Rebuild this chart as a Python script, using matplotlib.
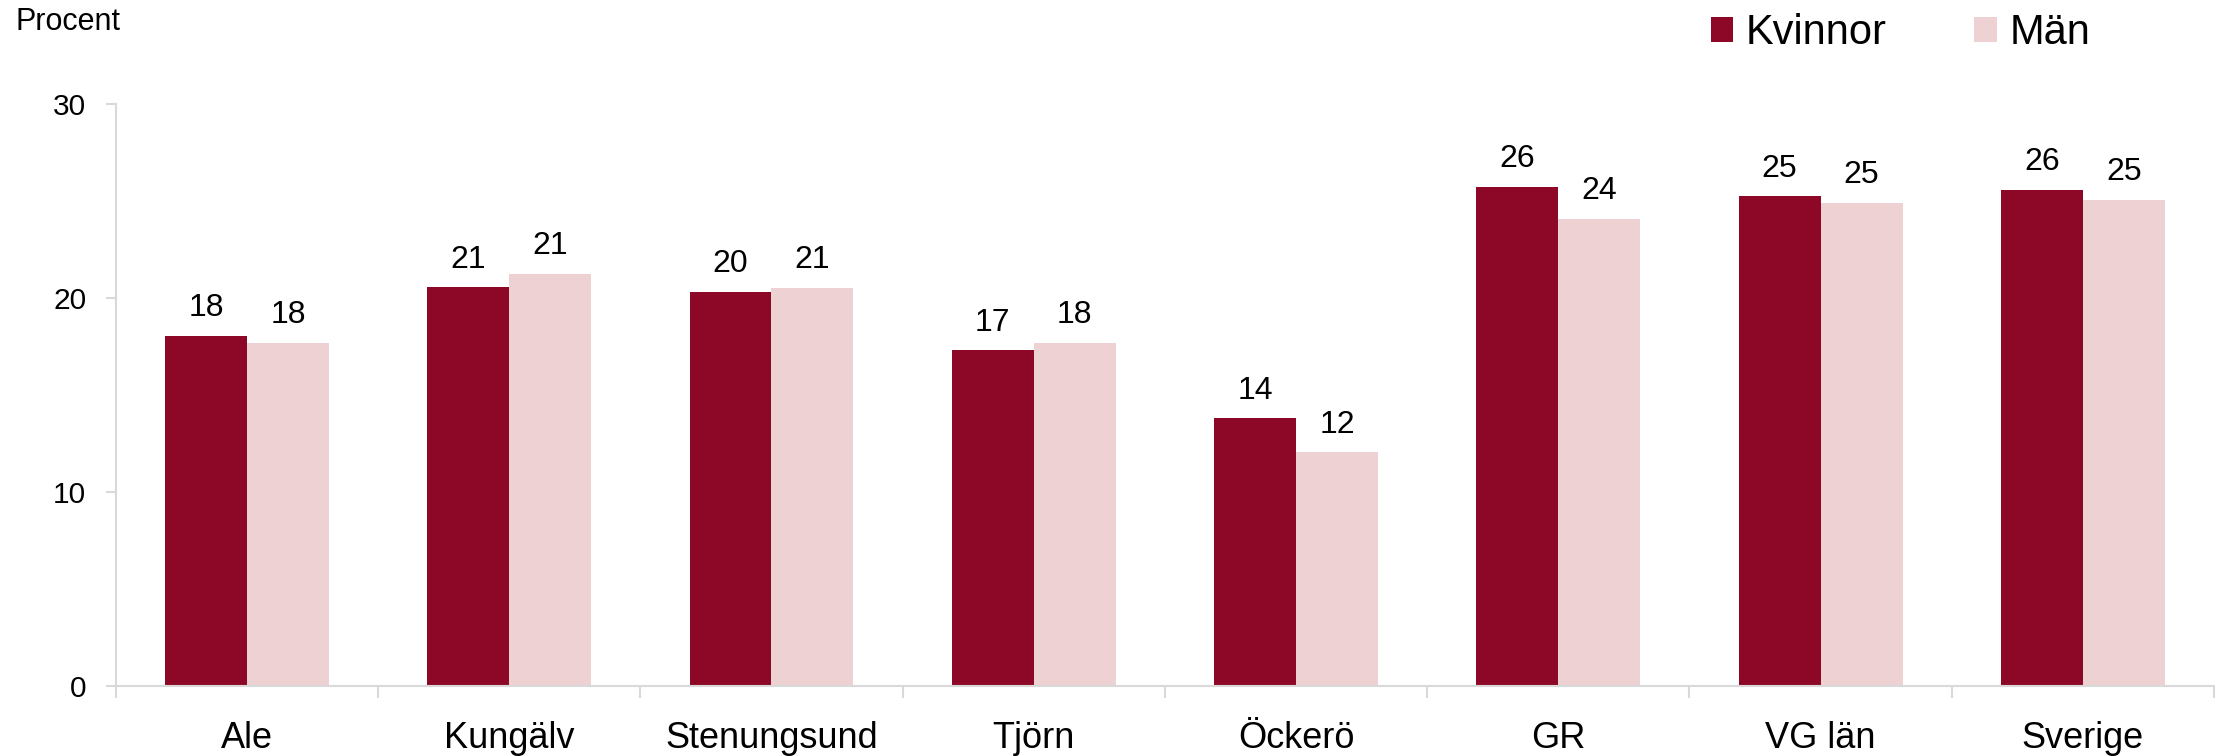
import matplotlib
matplotlib.use("Agg")
import matplotlib.pyplot as plt
import numpy as np

categories = ["Ale", "Kungälv", "Stenungsund", "Tjörn", "Öckerö", "GR", "VG län", "Sverige"]
kvinnor = [18.07, 20.57, 20.33, 17.33, 13.8, 25.74, 25.26, 25.60]
man = [17.7, 21.27, 20.55, 17.7, 12.05, 24.09, 24.92, 25.09]
series_names = ["Kvinnor", "Män"]
yticks = [0, 10, 20, 30]

col_k = "#8C0826"
col_m = "#EDD1D3"
grey = "#D9D9D9"
font = "Liberation Sans"

fig = plt.figure(figsize=(22.31, 7.56), dpi=100)
ax = fig.add_axes([0.0519, 0.0926, 0.9405, 0.7693])

x = np.arange(len(categories))
w = 0.3125
b1 = ax.bar(x - w / 2, kvinnor, w, color=col_k, label=series_names[0])
b2 = ax.bar(x + w / 2, man, w, color=col_m, label=series_names[1])

for bars in (b1, b2):
    ax.bar_label(bars, fmt="%.0f", padding=9, fontsize=23, family=font, color="black")

ax.set_xlim(-0.5, len(categories) - 0.5)
ax.set_ylim(0, 30)
ax.set_yticks(yticks)
ax.set_yticklabels([str(t) for t in yticks], fontsize=21.5, family=font)
ax.set_xticks(x)
ax.set_xticklabels(categories, fontsize=26, family=font)
ax.set_xticks(np.arange(-0.5, len(categories)), minor=True)
ax.tick_params(axis="x", which="major", length=0, pad=25)
ax.tick_params(axis="x", which="minor", length=8.6, width=1.5, color=grey)
ax.tick_params(axis="y", which="major", length=7.2, width=1.5, color=grey, pad=14)

for s in ["top", "right"]:
    ax.spines[s].set_visible(False)
for s in ["left", "bottom"]:
    ax.spines[s].set_color(grey)
    ax.spines[s].set_linewidth(1.5)

fig.text(15 / 2231, 1 - 22 / 756, "Procent", fontsize=22, family=font,
         ha="left", va="center")

leg = fig.legend(handles=[b1, b2], labels=series_names, loc="center left",
                 bbox_to_anchor=(1673 / 2231, 1 - 33 / 756), ncol=2, frameon=False,
                 prop={"family": font, "size": 30}, handlelength=0.55, handleheight=0.55,
                 handletextpad=0.3, columnspacing=2.1)

fig.savefig("out.png", dpi=100)
